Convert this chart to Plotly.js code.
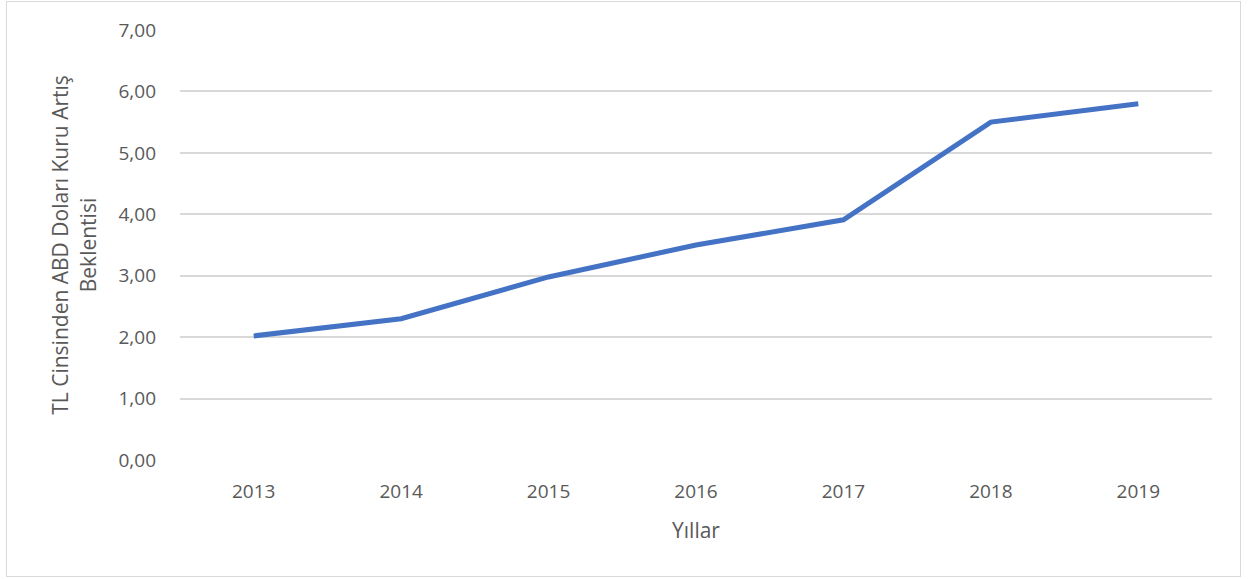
<!DOCTYPE html>
<html>
<head>
<meta charset="utf-8">
<script src="https://cdn.plot.ly/plotly-3.0.1.min.js"></script>
<style>
  body { margin: 0; background: #fff; }
  #chart { width: 1251px; height: 579px; }
  #frame { position: absolute; left: 6px; top: 1px; width: 1233px; height: 574px;
           border: 1.5px solid #d9d9d9; pointer-events: none; }
</style>
</head>
<body>
<div id="chart"></div>
<div id="frame"></div>
<script>
// yearly expectation values
var years = ['2013', '2014', '2015', '2016', '2017', '2018', '2019'];
var expectation = [2.02, 2.30, 2.98, 3.50, 3.91, 5.50, 5.80];

var trace = {
  type: 'scatter',
  mode: 'lines',
  x: years,
  y: expectation,
  line: { color: '#4472C4', width: 5 },
  hoverinfo: 'x+y'
};

var font = { family: 'Open Sans, sans-serif', size: 19, color: '#595959' };
var titleFont = { family: 'Open Sans, sans-serif', size: 21, color: '#595959' };

var layout = {
  width: 1251,
  height: 579,
  margin: { l: 180, r: 39, t: 30, b: 119 },
  paper_bgcolor: '#fff',
  plot_bgcolor: '#fff',
  showlegend: false,
  font: font,
  separators: ',.',
  xaxis: {
    type: 'category',
    range: [-0.5, 6.5],
    showgrid: false,
    zeroline: false,
    showline: false,
    ticks: '',
    ticklabelstandoff: 18,
    tickfont: font,
    title: { text: 'Yıllar', font: titleFont, standoff: 20 }
  },
  yaxis: {
    range: [0, 7],
    dtick: 1,
    tickformat: '.2f',
    showgrid: true,
    gridcolor: '#d9d9d9',
    gridwidth: 1.5,
    zeroline: false,
    showline: false,
    ticks: '',
    ticklabelstandoff: 23,
    tickfont: font,
    title: {
      text: 'TL Cinsinden ABD Doları Kuru Artış<br>Beklentisi',
      font: titleFont,
      standoff: 16
    }
  }
};

Plotly.newPlot('chart', [trace], layout, { displayModeBar: false });
</script>
</body>
</html>
